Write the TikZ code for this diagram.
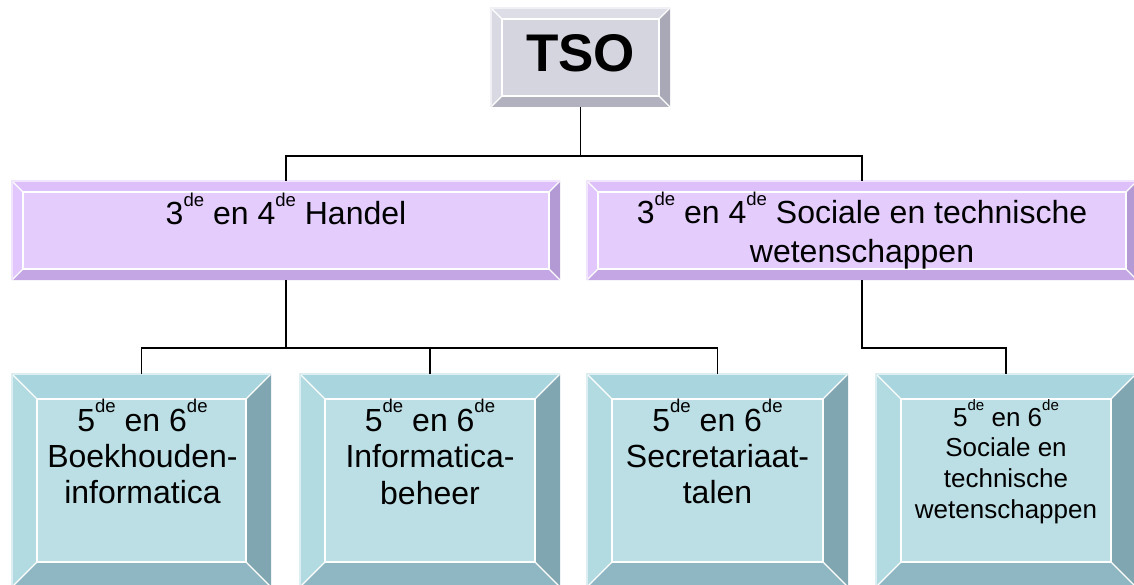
\documentclass[tikz,border=0pt]{standalone}
\usepackage{fontspec}
\setmainfont{Liberation Sans}
\usetikzlibrary{calc}
\definecolor{tsoF}{HTML}{D5D5DF}
\definecolor{tsoT}{HTML}{DDDDE7}
\definecolor{tsoL}{HTML}{D9D9E3}
\definecolor{tsoR}{HTML}{A8A8B6}
\definecolor{tsoB}{HTML}{B1B1BF}
\definecolor{purF}{HTML}{E4CCFD}
\definecolor{purT}{HTML}{DDBFFA}
\definecolor{purL}{HTML}{E1C7FD}
\definecolor{purR}{HTML}{B39AD5}
\definecolor{purB}{HTML}{C5A6E4}
\definecolor{tealF}{HTML}{BCDFE5}
\definecolor{tealT}{HTML}{A8D5DE}
\definecolor{tealL}{HTML}{B2DAE1}
\definecolor{tealR}{HTML}{80A7B1}
\definecolor{tealB}{HTML}{8EB7C3}
\newcommand{\sde}{\raisebox{0.59em}{\scalebox{0.58}{de}}}
\newcommand{\lns}[1]{\begin{tabular}[t]{@{}c@{}}#1\end{tabular}}
\newcommand{\bevelbox}[7]{%
  \coordinate (#1-inw) at ($(#1.north west)+(#2,#2)$);
  \coordinate (#1-ine) at ($(#1.north east)+(-#2,#2)$);
  \coordinate (#1-isw) at ($(#1.south west)+(#2,-#2)$);
  \coordinate (#1-ise) at ($(#1.south east)+(-#2,-#2)$);
  \fill[#4] (#1.north west) -- (#1.north east) -- (#1-ine) -- (#1-inw) -- cycle;
  \fill[#5] (#1.north west) -- (#1-inw) -- (#1-isw) -- (#1.south west) -- cycle;
  \fill[#6] (#1.north east) -- (#1.south east) -- (#1-ise) -- (#1-ine) -- cycle;
  \fill[#7] (#1.south west) -- (#1.south east) -- (#1-ise) -- (#1-isw) -- cycle;
  \fill[#3] (#1-inw) rectangle (#1-ise);
  \draw[bevline] (#1-inw) rectangle (#1-ise);
  \draw[bevline] (#1.north west) -- (#1-inw);
  \draw[bevline] (#1.north east) -- (#1-ine);
  \draw[bevline] (#1.south west) -- (#1-isw);
  \draw[bevline] (#1.south east) -- (#1-ise);
  \draw[bevline, white!60!#4] (#1.south west) -- (#1.north west) -- (#1.north east);
}
\tikzset{
  shapebox/.style={rectangle, inner sep=0pt, outer sep=0pt, draw=none},
  bevline/.style={white, line width=1.1pt},
  conn/.style={black, line width=1.6pt},
  txt/.style={inner sep=0pt, outer sep=0pt, anchor=base, align=center},
  txtbig/.style={txt, font=\fontsize{32}{39}\selectfont},
  txtmid/.style={txt, font=\fontsize{32}{36.3}\selectfont},
  txtsmall/.style={txt, font=\fontsize{26}{30.7}\selectfont},
}
\begin{document}
\begin{tikzpicture}[x=1pt,y=-1pt]
\useasboundingbox (0,0) rectangle (1134,585);
\clip (0,0) rectangle (1134,585);
\fill[white] (0,0) rectangle (1134,585);
% box nodes
\node[shapebox, minimum width=179pt, minimum height=99pt] (tso) at (580.5,57.5) {};
\node[shapebox, minimum width=548pt, minimum height=99pt] (h) at (286,230.5) {};
\node[shapebox, minimum width=550pt, minimum height=99pt] (s) at (862,230.5) {};
\node[shapebox, minimum width=259pt, minimum height=213pt] (t1) at (141.5,480.5) {};
\node[shapebox, minimum width=260pt, minimum height=213pt] (t2) at (430,480.5) {};
\node[shapebox, minimum width=261pt, minimum height=213pt] (t3) at (717.5,480.5) {};
\node[shapebox, minimum width=260pt, minimum height=213pt] (t4) at (1006,480.5) {};
% bevels
\bevelbox{tso}{11}{tsoF}{tsoT}{tsoL}{tsoR}{tsoB}
\bevelbox{h}{11}{purF}{purT}{purL}{purR}{purB}
\bevelbox{s}{11}{purF}{purT}{purL}{purR}{purB}
\bevelbox{t1}{25}{tealF}{tealT}{tealL}{tealR}{tealB}
\bevelbox{t2}{25}{tealF}{tealT}{tealL}{tealR}{tealB}
\bevelbox{t3}{25}{tealF}{tealT}{tealL}{tealR}{tealB}
\bevelbox{t4}{25}{tealF}{tealT}{tealL}{tealR}{tealB}
% texts
\node[txt, font=\fontsize{53}{60}\selectfont\bfseries] (tso-t) at (580.5,72) {TSO};
\node[txtbig] (h-t) at (286,225) {\lns{3\sde{} en 4\sde{} Handel}};
\node[txtbig] (s-t) at (862,224) {\lns{3\sde{} en 4\sde{} Sociale en technische\\wetenschappen}};
\node[txtmid] (t1-t) at (142.5,431) {\lns{5\sde{} en 6\sde\\Boekhouden-\\informatica}};
\node[txtmid] (t2-t) at (430,431.5) {\lns{5\sde{} en 6\sde\\Informatica-\\beheer}};
\node[txtmid] (t3-t) at (717.5,431) {\lns{5\sde{} en 6\sde\\Secretariaat-\\talen}};
\node[txtsmall] (t4-t) at (1006,426) {\lns{5\sde{} en 6\sde\\Sociale en\\technische\\wetenschappen}};
% connectors
\coordinate (j1) at (580.5,156);
\coordinate (j2) at (286,348);
\coordinate (j3) at (862,348);
\draw[conn] (tso.south) -- (j1);
\draw[conn] (h.north) |- (j1) -| (s.north);
\draw[conn] (h.south) -- (j2);
\draw[conn] (t1.north) |- (j2) -| (t3.north);
\draw[conn] (t2.north) -- (t2.north |- j2);
\draw[conn] (s.south) -- (j3) -| (t4.north);
\end{tikzpicture}
\end{document}
